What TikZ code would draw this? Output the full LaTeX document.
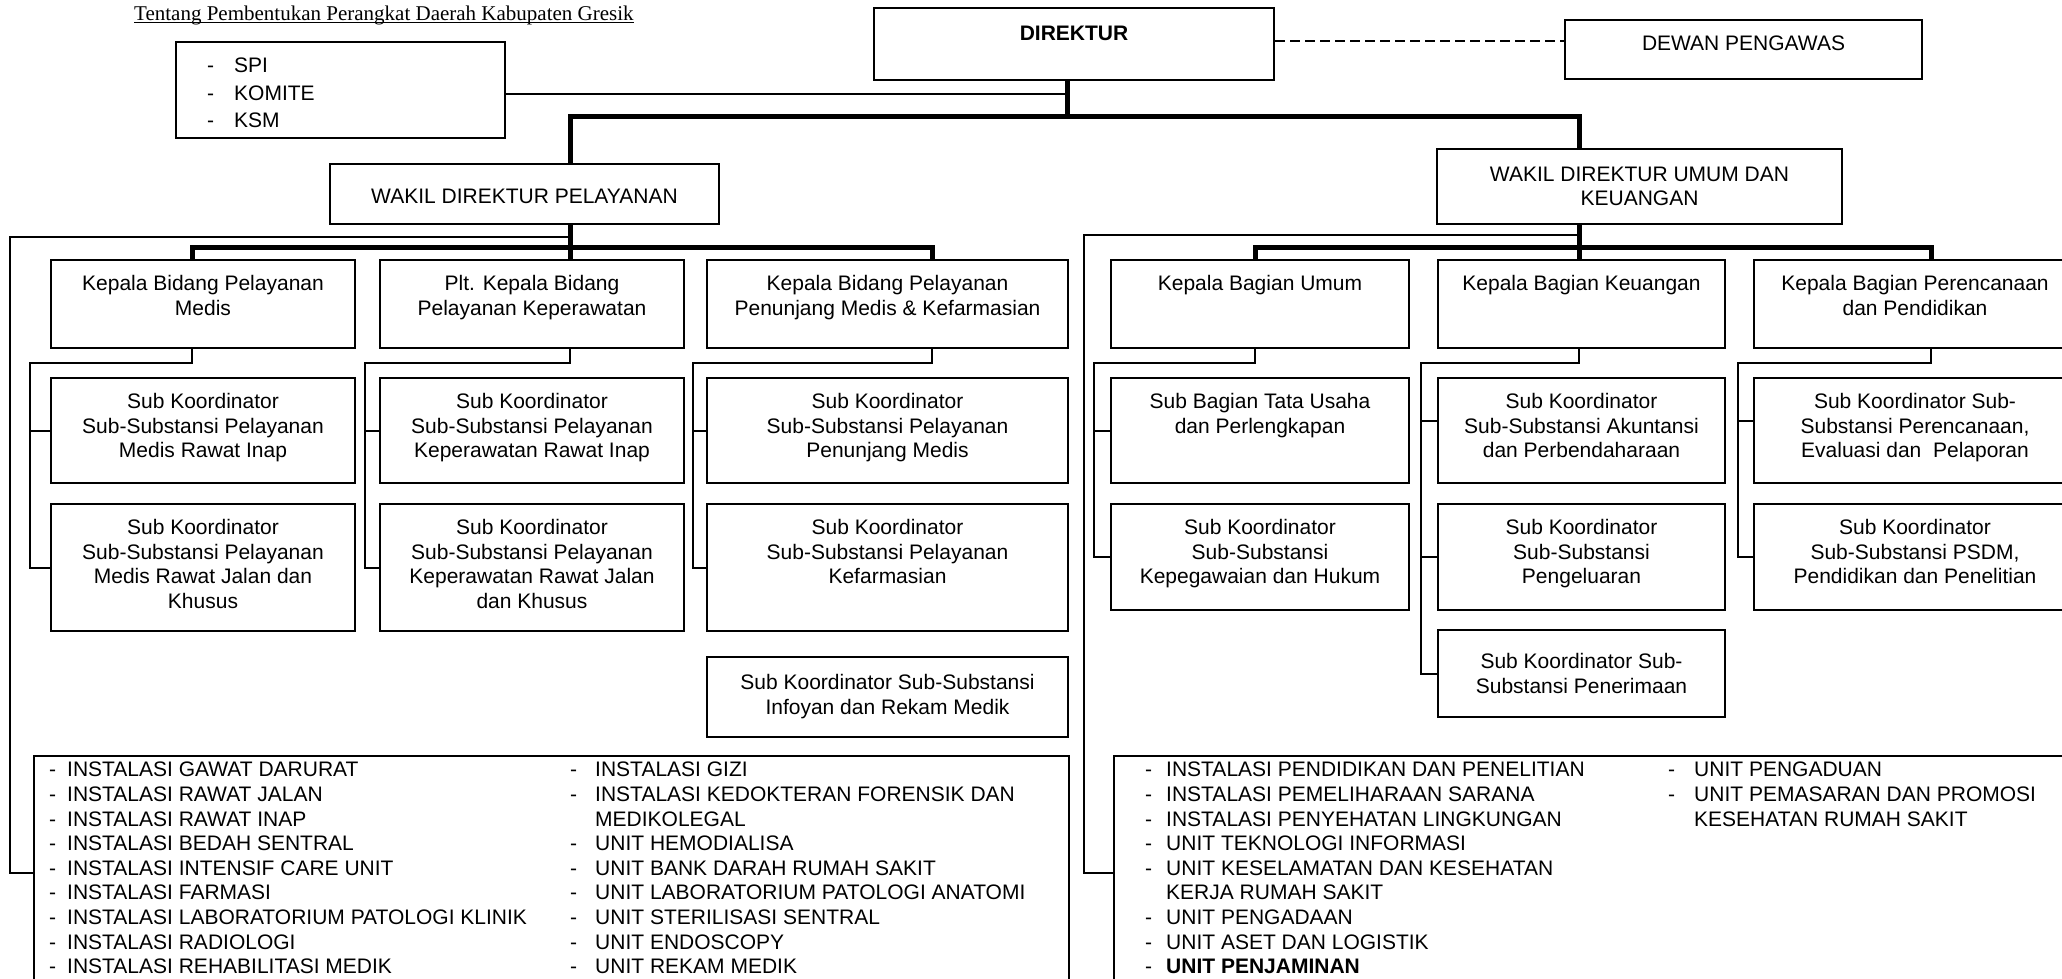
\documentclass[tikz,border=0pt]{standalone}
\usepackage{fontspec}
\setmainfont{Liberation Sans}
\newfontfamily\ttlfont{Liberation Serif}
\newcommand\orgfont{\fontsize{21}{24.6}\selectfont}
\newcommand\itm[2][18pt]{\makebox[#1][l]{-}#2}

\begin{document}
\begin{tikzpicture}[x=1pt, y=-1pt,
  box/.style={draw, line width=2pt, inner sep=0pt, anchor=north west},
  lbl/.style={anchor=north, align=center, inner sep=0pt, font=\orgfont, yshift=-16pt},
  items/.style={anchor=north west, align=left, inner sep=0pt, font=\orgfont},
  link/.style={line width=2pt},
  bus/.style={line width=5pt}]
  \useasboundingbox (0,0) rectangle (2062,979);
  \clip (0,0) rectangle (2062,979);

  % heading
  \node[anchor=base west, inner sep=0pt, font=\ttlfont\fontsize{21}{24}\selectfont] (ttl) at (134,21) {Tentang Pembentukan Perangkat Daerah Kabupaten Gresik};
  \draw[line width=1pt] ([yshift=-2pt]ttl.base west) -- ([yshift=-2pt]ttl.base east);

  % top level
  \node[box, minimum width=329pt, minimum height=96pt] (spi) at (175,41) {};
  \node[items, font=\fontsize{21}{27.5}\selectfont] (spi-t) at (207,58) {\itm[27pt]{SPI}\\\itm[27pt]{KOMITE}\\\itm[27pt]{KSM}};
  \node[box, minimum width=400pt, minimum height=72pt] (dir) at (873,7) {};
  \node[lbl, yshift=-2.5pt, font=\orgfont\bfseries] (dir-t) at (dir.north) {DIREKTUR};
  \node[box, minimum width=357pt, minimum height=59pt] (dewan) at (1564,19) {};
  \node[lbl, yshift=-0.5pt] (dewan-t) at (dewan.north) {DEWAN PENGAWAS};
  \node[box, minimum width=389pt, minimum height=60pt] (wpel) at (329,163) {};
  \node[lbl, yshift=-9.5pt] (wpel-t) at (wpel.north) {WAKIL DIREKTUR PELAYANAN};
  \node[box, minimum width=405pt, minimum height=75pt] (wumum) at (1436,148) {};
  \node[lbl, yshift=-2.5pt] (wumum-t) at (wumum.north) {WAKIL DIREKTUR UMUM DAN\\KEUANGAN};

  % bidang pelayanan
  \node[box, minimum width=304pt, minimum height=88pt] (kbm) at (50,259) {};
  \node[lbl] (kbm-t) at (kbm.north) {Kepala Bidang Pelayanan\\Medis};
  \node[box, minimum width=304pt, minimum height=105pt] (kbm2) at (50,377) {};
  \node[lbl] (kbm2-t) at (kbm2.north) {Sub Koordinator\\Sub-Substansi Pelayanan\\Medis Rawat Inap};
  \node[box, minimum width=304pt, minimum height=127pt] (kbm3) at (50,503) {};
  \node[lbl] (kbm3-t) at (kbm3.north) {Sub Koordinator\\Sub-Substansi Pelayanan\\Medis Rawat Jalan dan\\Khusus};

  \node[box, minimum width=304pt, minimum height=88pt] (kbk) at (379,259) {};
  \node[lbl] (kbk-t) at (kbk.north) {Plt. Kepala Bidang\\Pelayanan Keperawatan};
  \node[box, minimum width=304pt, minimum height=105pt] (kbk2) at (379,377) {};
  \node[lbl] (kbk2-t) at (kbk2.north) {Sub Koordinator\\Sub-Substansi Pelayanan\\Keperawatan Rawat Inap};
  \node[box, minimum width=304pt, minimum height=127pt] (kbk3) at (379,503) {};
  \node[lbl] (kbk3-t) at (kbk3.north) {Sub Koordinator\\Sub-Substansi Pelayanan\\Keperawatan Rawat Jalan\\dan Khusus};

  \node[box, minimum width=361pt, minimum height=88pt] (kbpm) at (706,259) {};
  \node[lbl] (kbpm-t) at (kbpm.north) {Kepala Bidang Pelayanan\\Penunjang Medis \& Kefarmasian};
  \node[box, minimum width=361pt, minimum height=105pt] (kbpm2) at (706,377) {};
  \node[lbl] (kbpm2-t) at (kbpm2.north) {Sub Koordinator\\Sub-Substansi Pelayanan\\Penunjang Medis};
  \node[box, minimum width=361pt, minimum height=127pt] (kbpm3) at (706,503) {};
  \node[lbl] (kbpm3-t) at (kbpm3.north) {Sub Koordinator\\Sub-Substansi Pelayanan\\Kefarmasian};
  \node[box, minimum width=361pt, minimum height=80pt] (kbpm4) at (706,656) {};
  \node[lbl, yshift=-2pt] (kbpm4-t) at (kbpm4.north) {Sub Koordinator Sub-Substansi\\Infoyan dan Rekam Medik};

  % bagian umum dan keuangan
  \node[box, minimum width=298pt, minimum height=88pt] (kbu) at (1110,259) {};
  \node[lbl] (kbu-t) at (kbu.north) {Kepala Bagian Umum};
  \node[box, minimum width=298pt, minimum height=105pt] (kbu2) at (1110,377) {};
  \node[lbl] (kbu2-t) at (kbu2.north) {Sub Bagian Tata Usaha\\dan Perlengkapan};
  \node[box, minimum width=298pt, minimum height=106pt] (kbu3) at (1110,503) {};
  \node[lbl] (kbu3-t) at (kbu3.north) {Sub Koordinator\\Sub-Substansi\\Kepegawaian dan Hukum};

  \node[box, minimum width=287pt, minimum height=88pt] (kbkeu) at (1437,259) {};
  \node[lbl] (kbkeu-t) at (kbkeu.north) {Kepala Bagian Keuangan};
  \node[box, minimum width=287pt, minimum height=105pt] (kbkeu2) at (1437,377) {};
  \node[lbl] (kbkeu2-t) at (kbkeu2.north) {Sub Koordinator\\Sub-Substansi Akuntansi\\dan Perbendaharaan};
  \node[box, minimum width=287pt, minimum height=106pt] (kbkeu3) at (1437,503) {};
  \node[lbl] (kbkeu3-t) at (kbkeu3.north) {Sub Koordinator\\Sub-Substansi\\Pengeluaran};
  \node[box, minimum width=287pt, minimum height=87pt] (kbkeu4) at (1437,629) {};
  \node[lbl, yshift=-8pt] (kbkeu4-t) at (kbkeu4.north) {Sub Koordinator Sub-\\Substansi Penerimaan};

  \node[box, minimum width=322pt, minimum height=88pt] (kbpp) at (1753,259) {};
  \node[lbl] (kbpp-t) at (kbpp.north) {Kepala Bagian Perencanaan\\dan Pendidikan};
  \node[box, minimum width=322pt, minimum height=105pt] (kbpp2) at (1753,377) {};
  \node[lbl] (kbpp2-t) at (kbpp2.north) {Sub Koordinator Sub-\\Substansi Perencanaan,\\Evaluasi dan\ \ Pelaporan};
  \node[box, minimum width=322pt, minimum height=106pt] (kbpp3) at (1753,503) {};
  \node[lbl] (kbpp3-t) at (kbpp3.north) {Sub Koordinator\\Sub-Substansi PSDM,\\Pendidikan dan Penelitian};

  % instalasi dan unit
  \node[box, minimum width=1035pt, minimum height=234pt] (instl) at (33,755) {};
  \node[items] (instl-a) at (49,762) {\itm{INSTALASI GAWAT DARURAT}\\\itm{INSTALASI RAWAT JALAN}\\\itm{INSTALASI RAWAT INAP}\\\itm{INSTALASI BEDAH SENTRAL}\\\itm{INSTALASI INTENSIF CARE UNIT}\\\itm{INSTALASI FARMASI}\\\itm{INSTALASI LABORATORIUM PATOLOGI KLINIK}\\\itm{INSTALASI RADIOLOGI}\\\itm{INSTALASI REHABILITASI MEDIK}};
  \node[items] (instl-b) at (570,762) {\itm[25pt]{INSTALASI GIZI}\\\itm[25pt]{INSTALASI KEDOKTERAN FORENSIK DAN}\\\makebox[25pt]{}MEDIKOLEGAL\\\itm[25pt]{UNIT HEMODIALISA}\\\itm[25pt]{UNIT BANK DARAH RUMAH SAKIT}\\\itm[25pt]{UNIT LABORATORIUM PATOLOGI ANATOMI}\\\itm[25pt]{UNIT STERILISASI SENTRAL}\\\itm[25pt]{UNIT ENDOSCOPY}\\\itm[25pt]{UNIT REKAM MEDIK}};
  \node[box, minimum width=980pt, minimum height=234pt] (instr) at (1113,755) {};
  \node[items] (instr-a) at (1145,762) {\itm[21pt]{INSTALASI PENDIDIKAN DAN PENELITIAN}\\\itm[21pt]{INSTALASI PEMELIHARAAN SARANA}\\\itm[21pt]{INSTALASI PENYEHATAN LINGKUNGAN}\\\itm[21pt]{UNIT TEKNOLOGI INFORMASI}\\\itm[21pt]{UNIT KESELAMATAN DAN KESEHATAN}\\\makebox[21pt]{}KERJA RUMAH SAKIT\\\itm[21pt]{UNIT PENGADAAN}\\\itm[21pt]{UNIT ASET DAN LOGISTIK}\\\itm[21pt]{\textbf{UNIT PENJAMINAN}}};
  \node[items] (instr-b) at (1668,762) {\itm[26pt]{UNIT PENGADUAN}\\\itm[26pt]{UNIT PEMASARAN DAN PROMOSI}\\\makebox[26pt]{}KESEHATAN RUMAH SAKIT};

  % garis direktur
  \coordinate (t0) at (1067,117);
  \coordinate (t1) at (570,117);
  \coordinate (t2) at (1579,117);
  \draw[bus] (dir.south -| t0) -- (t0);
  \draw[bus] (wpel.north -| t1) -- (t1) -- (t2) -- (wumum.north -| t2);
  \draw[link] ([yshift=-4pt]spi.east) -| (t0);
  \draw[link, dash pattern=on 10pt off 5pt] ([yshift=2.5pt]dir.east) -- ([yshift=2.5pt]dir.east -| dewan.west);

  % garis pelayanan
  \coordinate (p1) at (570,237);
  \coordinate (p0) at (10,237);
  \draw[link] (p1) -- (p0) |- (instl.west);
  \draw[bus] (wpel.south -| t1) -- (kbk.north -| t1);
  \coordinate (lb1) at (192,247);
  \coordinate (rb1) at (932,247);
  \draw[bus] (kbm.north -| lb1) -- (lb1) -- (rb1) -- (kbpm.north -| rb1);
  \coordinate (a1) at (192,363);
  \coordinate (a2) at (30,363);
  \draw[link] (kbm.south -| a1) -- (a1) -- (a2) |- (kbm3.west);
  \draw[link] (a2 |- kbm2.west) -- (kbm2.west);
  \coordinate (b1) at (570,363);
  \coordinate (b2) at (365,363);
  \draw[link] (kbk.south -| b1) -- (b1) -- (b2) |- (kbk3.west);
  \draw[link] (b2 |- kbk2.west) -- (kbk2.west);
  \coordinate (c1) at (932,363);
  \coordinate (c2) at (693,363);
  \draw[link] (kbpm.south -| c1) -- (c1) -- (c2) |- (kbpm3.west);
  \draw[link] (c2 |- kbpm2.west) -- (kbpm2.west);

  % garis umum dan keuangan
  \coordinate (u1) at (1579,235);
  \coordinate (u0) at (1084,235);
  \draw[link] (u1) -- (u0) |- (instr.west);
  \draw[bus] (wumum.south -| t2) -- (kbkeu.north -| t2);
  \coordinate (lb2) at (1255,247);
  \coordinate (rb2) at (1931,247);
  \draw[bus] (kbu.north -| lb2) -- (lb2) -- (rb2) -- (kbpp.north -| rb2);
  \coordinate (d1) at (1255,363);
  \coordinate (d2) at (1094,363);
  \draw[link] (kbu.south -| d1) -- (d1) -- (d2) |- (kbu3.west);
  \draw[link] (d2 |- kbu2.west) -- (kbu2.west);
  \coordinate (e1) at (1579,363);
  \coordinate (e2) at (1421,363);
  \coordinate (e3) at (1421,421);
  \draw[link] (kbkeu.south -| e1) -- (e1) -- (e2) |- (kbkeu4.west);
  \draw[link] (e3) -- (e3 -| kbkeu2.west);
  \draw[link] (e2 |- kbkeu3.west) -- (kbkeu3.west);
  \coordinate (f1) at (1931,363);
  \coordinate (f2) at (1738,363);
  \coordinate (f3) at (1738,421);
  \draw[link] (kbpp.south -| f1) -- (f1) -- (f2) |- (kbpp3.west);
  \draw[link] (f3) -- (f3 -| kbpp2.west);
\end{tikzpicture}
\end{document}
